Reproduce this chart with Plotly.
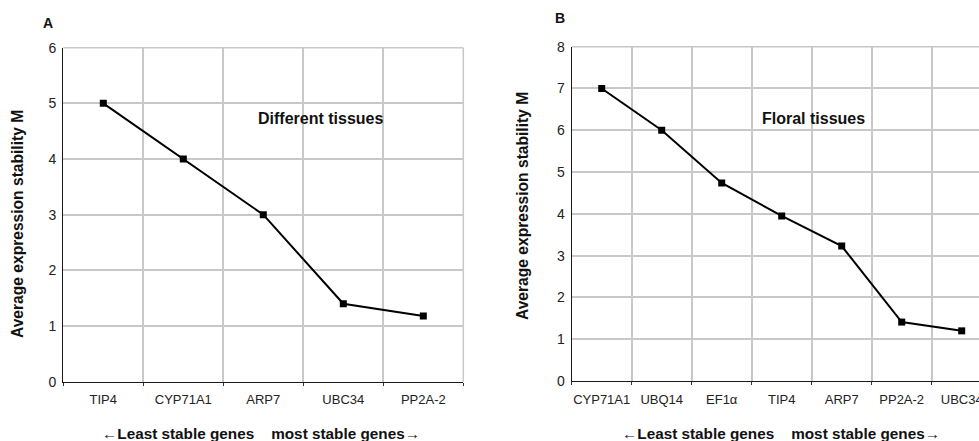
import plotly.graph_objects as go

# Panel A: different tissues
genes_a = ["TIP4", "CYP71A1", "ARP7", "UBC34", "PP2A-2"]
m_a = [5.0, 4.0, 3.0, 1.40, 1.18]

# Panel B: floral tissues
genes_b = ["CYP71A1", "UBQ14", "EF1α", "TIP4", "ARP7", "PP2A-2", "UBC34"]
m_b = [7.0, 6.0, 4.74, 3.95, 3.23, 1.41, 1.20]

W, H = 979, 441
FONT = "Liberation Sans, Arial, sans-serif"
GRID = "#c8c8c8"

fig = go.Figure()
line_style = dict(color="black", width=2)
marker_style = dict(symbol="square", size=7, color="black")

fig.add_trace(go.Scatter(x=genes_a, y=m_a, mode="lines+markers",
                         line=line_style, marker=marker_style,
                         xaxis="x", yaxis="y", showlegend=False))
fig.add_trace(go.Scatter(x=genes_b, y=m_b, mode="lines+markers",
                         line=line_style, marker=marker_style,
                         xaxis="x2", yaxis="y2", showlegend=False))


def px_x(p):
    return p / W


def px_y(p):
    return 1 - p / H


common_x = dict(type="category", tickson="boundaries", showgrid=True,
                gridcolor=GRID, gridwidth=1.5, showline=True, linecolor="#1a1a1a",
                linewidth=1.3, ticks="outside", ticklen=3, tickcolor="#333",
                tickwidth=1.3, tickangle=0, automargin=False, ticklabelstandoff=6,
                tickfont=dict(family=FONT, size=13, color="#222"),
                zeroline=False, fixedrange=True)
common_y = dict(showgrid=True, gridcolor=GRID, gridwidth=1.5, showline=True,
                linecolor="#1a1a1a", linewidth=1.3, ticks="", dtick=1,
                automargin=False, ticklabelstandoff=3,
                tickfont=dict(family=FONT, size=14, color="#222"),
                zeroline=False, fixedrange=True)

# category slot width in panel B is 60 px; the panel runs past the page edge
b_left = 571.7
b_slot = 60.0
b_right_range = -0.5 + (W - b_left) / b_slot

fig.update_layout(
    width=W, height=H,
    margin=dict(l=0, r=0, t=0, b=0, autoexpand=False),
    paper_bgcolor="white", plot_bgcolor="white",
    xaxis=dict(common_x, domain=[px_x(63.3), px_x(463.3)], range=[-0.5, 4.5],
               anchor="y"),
    yaxis=dict(common_y, domain=[px_y(381.7), px_y(47.7)], range=[0, 6],
               anchor="x"),
    xaxis2=dict(common_x, domain=[px_x(b_left), 1.0],
                range=[-0.5, b_right_range], anchor="y2"),
    yaxis2=dict(common_y, domain=[px_y(381), px_y(46.7)], range=[0, 8],
                anchor="x2"),
)

# right and top frame of panel A, top frame of panel B, in grid colour
fig.add_shape(type="line", xref="x domain", yref="y domain", x0=1, x1=1, y0=0, y1=1,
              line=dict(color=GRID, width=1.5), layer="below")
fig.add_shape(type="line", xref="x domain", yref="y domain", x0=0, x1=1, y0=1, y1=1,
              line=dict(color=GRID, width=1.5), layer="below")
fig.add_shape(type="line", xref="x2 domain", yref="y2 domain", x0=0, x1=1, y0=1, y1=1,
              line=dict(color=GRID, width=1.5), layer="below")

bold = dict(family=FONT, size=16, color="#111")
title_font = dict(family=FONT, size=15.3, color="#111")
gap = "\u00a0" * 4
xtitle = f"<b>←Least stable genes{gap}most stable genes→</b>"
ytitle = "<b>Average expression stability M</b>"


def note(text, x, y, font, angle=0):
    return dict(text=text, x=px_x(x), y=px_y(y), xref="paper", yref="paper",
                xanchor="center", yanchor="middle", showarrow=False,
                textangle=angle, font=font)


annotations = [
    note("<b>A</b>", 47.5, 23, dict(family=FONT, size=14, color="#111")),
    note("<b>B</b>", 560, 18, dict(family=FONT, size=14, color="#111")),
    note(ytitle, 17, 224, dict(family=FONT, size=15.6, color="#111"), -90),
    note(ytitle, 523, 206, dict(family=FONT, size=15.6, color="#111"), -90),
    note(xtitle, 261, 433, title_font),
    note(xtitle, 781, 433, title_font),
    note("<b>Different tissues</b>", 320, 119, bold),
    note("<b>Floral tissues</b>", 813, 119, bold),
]
fig.update_layout(annotations=annotations)

fig.write_html("out.html")
